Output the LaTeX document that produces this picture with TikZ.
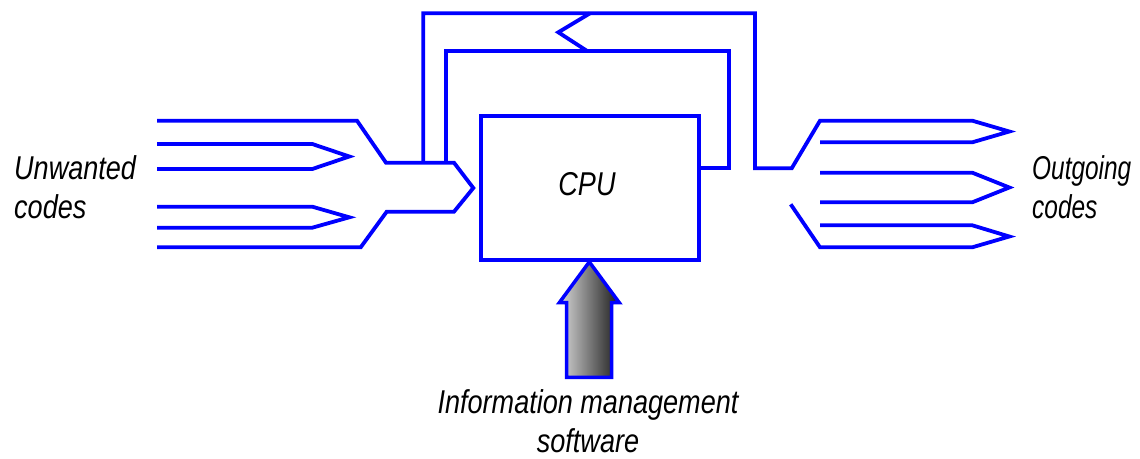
\documentclass[tikz,border=0pt]{standalone}
\usepackage{fontspec}
\newfontfamily\gost{Liberation Sans}[FakeStretch=0.82]
\newfontfamily\gostn{Liberation Sans}[FakeStretch=0.74]
\begin{document}
\begin{tikzpicture}[x=1pt,y=-1pt,
  wire/.style={draw=blue,line width=3.8pt},
  lbl/.style={font=\gost\itshape\fontsize{33}{39}\selectfont,inner sep=0pt,text=black}]
\useasboundingbox (0,0) rectangle (1140,458);
% CPU block
\node[wire,minimum width=218pt,minimum height=144pt,inner sep=0pt] (cpu) at (589.7,188) {};
\node[lbl,anchor=base] (cpulbl) at (587,195) {CPU};
% left inlet
\draw[wire] (157,120.7) -- (357,120.7) -- (386,162.7) -- (454,162.7) -- (473.3,188)
  -- (454,211.7) -- (386.7,211.7) -- (360.7,247.3) -- (157,247.3);
\draw[wire] (157,144) -- (312.3,144) -- (349.3,156.5) -- (312.3,169) -- (157,169);
\draw[wire] (157,206.7) -- (312.3,206.7) -- (349.3,217.3) -- (312.3,227.7) -- (157,227.7);
% outer loop and right outlet
\draw[wire] (423.3,162.7) -- (423.3,13.3) -- (755,13.3) -- (755,168.3) -- (791.7,168.3)
  -- (820,120.7) -- (972.3,120.7) -- (1009.3,131.5) -- (972.3,142.3) -- (820,142.3);
% inner loop
\draw[wire] (446.3,162.7) -- (446.3,50.7) -- (729.3,50.7) -- (729.3,168.3) -- (cpu.east |- 0,168.3);
% notch between loops
\draw[wire] (590,13.3) -- (558.3,32.3) -- (586.7,50.7);
% right outlets
\draw[wire] (820,172.7) -- (972.3,172.7) -- (1009.3,187.5) -- (972.3,202.3) -- (820,202.3);
\draw[wire] (790.7,204.3) -- (820,247.3) -- (972.3,247.3) -- (1009.3,236.5) -- (972.3,225.3) -- (820,225.3);
% software arrow
\draw[wire,left color=black!15,right color=black!90,line width=3.5pt]
  (566.7,377.3) -- (566.7,302.7) -- (559.3,302.7) -- (cpu.south -| 589.3,0) -- (619.3,302.7)
  -- (611.7,302.7) -- (611.7,377.3) -- cycle;
% labels
\node[lbl,anchor=base west,align=left] (unw) at (14,218.3) {Unwanted\\codes};
\node[lbl,font=\gostn\itshape\fontsize{33}{39}\selectfont,anchor=base west,align=left] (out) at (1032,218) {Outgoing\\codes};
\node[lbl,anchor=base,align=center] (soft) at (588,452.5) {Information management\\software};
\end{tikzpicture}
\end{document}
